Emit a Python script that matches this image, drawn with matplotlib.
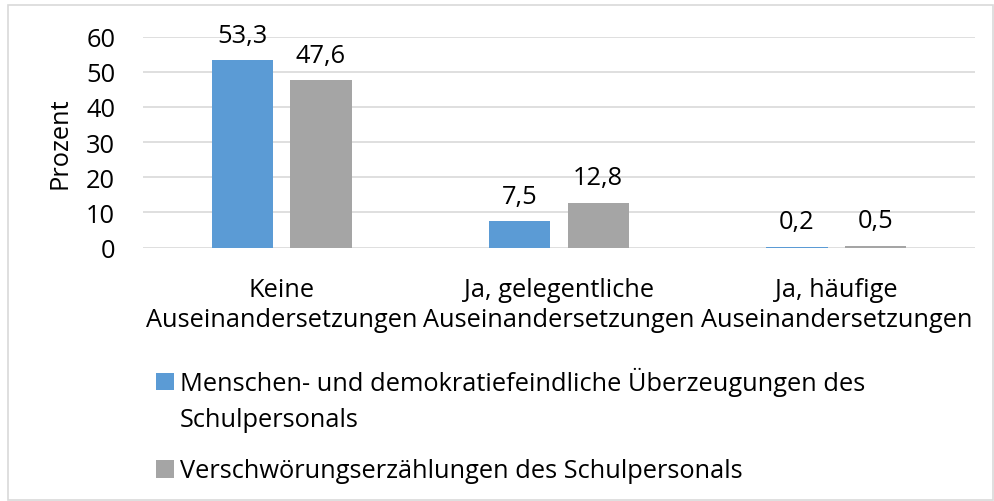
import matplotlib
matplotlib.use("Agg")
import matplotlib.pyplot as plt
import matplotlib.transforms as mtransforms
import numpy as np
from matplotlib.patches import Rectangle

plt.rcParams['font.family'] = ['Open Sans', 'DejaVu Sans']

categories = ["Keine\nAuseinandersetzungen", "Ja, gelegentliche\nAuseinandersetzungen", "Ja, häufige\nAuseinandersetzungen"]
series_names = ["Menschen- und demokratiefeindliche Überzeugungen des\nSchulpersonals",
                "Verschwörungserzählungen des Schulpersonals"]
values_a = [53.3, 7.5, 0.2]
values_b = [47.6, 12.8, 0.5]
labels_a = ["53,3", "7,5", "0,2"]
labels_b = ["47,6", "12,8", "0,5"]
colors = ["#5B9BD5", "#A5A5A5"]
yticks = [0, 10, 20, 30, 40, 50, 60]

W, H = 994, 502
fig = plt.figure(figsize=(W/100, H/100), dpi=100)
fs = 18.3

def fy(py):
    return 1 - py / H

# outer border
fig.patches.append(Rectangle((8/W, 1/H), (993-8)/W, 495/H, transform=fig.transFigure,
                             fill=False, edgecolor="#D9D9D9", linewidth=1.2))

ax = fig.add_axes([143/W, fy(248.6), (975-143)/W, (248.6-37.6)/H])
x = np.arange(len(categories))
bw = 0.222
off = 0.1417
ax.bar(x - off, values_a, bw, color=colors[0], label=series_names[0], zorder=3)
ax.bar(x + off, values_b, bw, color=colors[1], label=series_names[1], zorder=3)
for xi, v, l in zip(x - off, values_a, labels_a):
    ax.annotate(l, (xi, v), xytext=(0, 13.3), textcoords="offset points", ha="center", va="baseline", fontsize=fs)
for xi, v, l in zip(x + off, values_b, labels_b):
    ax.annotate(l, (xi, v), xytext=(0, 13.3), textcoords="offset points", ha="center", va="baseline", fontsize=fs)

ax.set_xlim(-0.5, 2.5)
ax.set_ylim(0, 60)
ax.set_yticks(yticks)
ax.set_yticklabels([str(t) for t in yticks], fontsize=fs)
ax.set_xticks(x)
ax.set_xticklabels([])
ax.tick_params(axis="x", length=0)
ax.tick_params(axis="y", length=0, pad=20, colors="black")
ax.yaxis.grid(True, color="#D9D9D9", linewidth=1.2, zorder=0)
for s in ax.spines.values():
    s.set_visible(False)

# category labels, one text per line at measured baselines
trans = mtransforms.blended_transform_factory(ax.transData, fig.transFigure)
line_baselines = [297, 327]
for xi, cat in zip(x, categories):
    for ln, by in zip(cat.split("\n"), line_baselines):
        ax.text(xi, fy(by), ln, transform=trans, ha="center", va="baseline", fontsize=fs)

ax.set_ylabel("Prozent", fontsize=fs)
ax.yaxis.set_label_coords((60 - 143) / (975 - 143), 0.5)
ax.yaxis.label.set_va("center")

# legend drawn manually to match the reference layout
sq = 17.5
leg_tops = [373.5, 461]
leg_baselines = [[391, 427], [478]]
for top, bls, name, c in zip(leg_tops, leg_baselines, series_names, colors):
    fig.patches.append(Rectangle((156/W, fy(top + sq)), sq/W, sq/H, transform=fig.transFigure,
                                 facecolor=c, edgecolor="none"))
    for ln, by in zip(name.split("\n"), bls):
        fig.text(180/W, fy(by), ln, fontsize=fs, va="baseline", ha="left")

fig.savefig("out.png", dpi=100)
